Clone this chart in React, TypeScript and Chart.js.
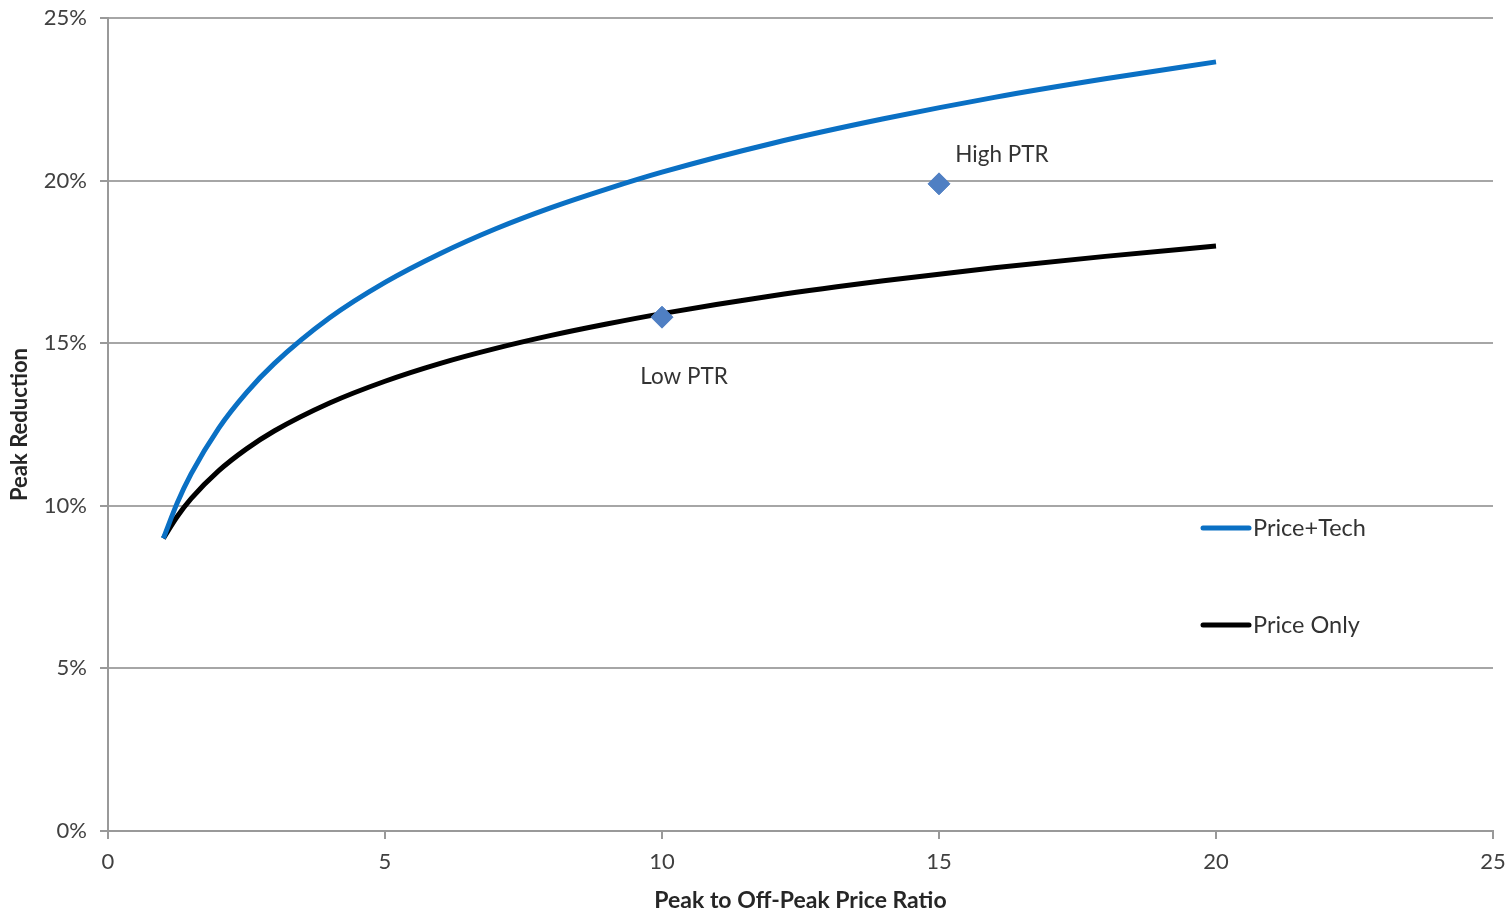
import React, { useEffect, useRef } from "react";
import { Chart, registerables } from "chart.js";

Chart.register(...registerables);

const priceRatio = [1, 1.25, 1.5, 2, 2.5, 3, 4, 5, 6, 7, 8, 9, 10, 12, 14, 16, 18, 20];
const priceTech = [9.0, 10.09, 10.98, 12.39, 13.48, 14.37, 15.78, 16.87, 17.76, 18.52, 19.17, 19.74, 20.26, 21.15, 21.9, 22.56, 23.13, 23.65];
const priceOnly = [9.0, 9.67, 10.22, 11.08, 11.75, 12.3, 13.16, 13.83, 14.38, 14.84, 15.24, 15.59, 15.91, 16.46, 16.92, 17.32, 17.67, 17.99];
const ptrX = [10, 15];
const ptrY = [15.8, 19.9];
const ptrLabels = ["Low PTR", "High PTR"];
const seriesNames = ["Price+Tech", "Price Only"];
const seriesColors = ["#0a70c4", "#000000"];

const FONT = "Lato, 'Open Sans', sans-serif";

export default function App() {
  const ref = useRef<HTMLCanvasElement | null>(null);

  useEffect(() => {
    if (!ref.current) return;

    const annotationPlugin = {
      id: "ptrLabels",
      afterDatasetsDraw(chart: any) {
        const { ctx, scales } = chart;
        const offsets = [
          { dx: 22, dy: 60 },
          { dx: 63, dy: -29 },
        ];
        ctx.save();
        ctx.font = `22.5px ${FONT}`;
        ctx.fillStyle = "#333333";
        ctx.textAlign = "center";
        ctx.textBaseline = "middle";
        ptrLabels.forEach((lbl, i) => {
          const px = scales.x.getPixelForValue(ptrX[i]);
          const py = scales.y.getPixelForValue(ptrY[i]);
          ctx.fillText(lbl, px + offsets[i].dx, py + offsets[i].dy);
        });
        ctx.restore();
      },
    };

    const legendPlugin = {
      id: "customLegend",
      afterDraw(chart: any) {
        const { ctx, chartArea } = chart;
        const x0 = chartArea.right - 290;
        const ys = [chartArea.top + 510, chartArea.top + 607];
        ctx.save();
        ctx.font = `23.5px ${FONT}`;
        ctx.textBaseline = "middle";
        ctx.textAlign = "left";
        seriesNames.forEach((name, i) => {
          ctx.strokeStyle = seriesColors[i];
          ctx.lineWidth = 5;
          ctx.lineCap = "round";
          ctx.beginPath();
          ctx.moveTo(x0, ys[i]);
          ctx.lineTo(x0 + 46, ys[i]);
          ctx.stroke();
          ctx.fillStyle = "#333333";
          ctx.fillText(name, x0 + 50, ys[i]);
        });
        ctx.restore();
      },
    };

    const chart = new Chart(ref.current, {
      type: "scatter",
      data: {
        datasets: [
          {
            label: ptrLabels.join(" / "),
            data: ptrX.map((x, i) => ({ x, y: ptrY[i] })),
            pointStyle: "rectRot",
            pointRadius: 11,
            backgroundColor: "#4f7fc3",
            borderColor: "#4f7fc3",
            showLine: false,
          },
          {
            label: seriesNames[0],
            data: priceRatio.map((x, i) => ({ x, y: priceTech[i] })),
            showLine: true,
            borderColor: seriesColors[0],
            borderWidth: 5,
            pointRadius: 0,
            cubicInterpolationMode: "monotone",
          },
          {
            label: seriesNames[1],
            data: priceRatio.map((x, i) => ({ x, y: priceOnly[i] })),
            showLine: true,
            borderColor: seriesColors[1],
            borderWidth: 5,
            pointRadius: 0,
            cubicInterpolationMode: "monotone",
          },
        ],
      },
      options: {
        animation: false,
        responsive: false,
        maintainAspectRatio: false,
        layout: { padding: { left: 0, top: 18, right: 16, bottom: 0 } },
        plugins: {
          legend: { display: false },
          tooltip: { enabled: false },
        },
        scales: {
          x: {
            type: "linear",
            min: 0,
            max: 25,
            afterFit: (s: any) => {
              s.height = 83;
              s.paddingLeft = 0;
              s.paddingRight = 0;
            },
            ticks: {
              stepSize: 5,
              padding: 10,
              color: "#404040",
              font: { family: FONT, size: 22 },
            },
            grid: {
              color: "transparent",
              tickColor: "#999999",
              tickLength: 8,
              lineWidth: 2,
            },
            border: { display: true, color: "#999999", width: 2 },
            title: {
              display: true,
              text: "Peak to Off-Peak Price Ratio",
              color: "#262626",
              font: { family: FONT, size: 23, weight: "bold" },
              padding: { top: 0, bottom: 0 },
            },
          },
          y: {
            type: "linear",
            min: 0,
            max: 25,
            afterFit: (s: any) => {
              s.width = 108;
              s.paddingTop = 0;
              s.paddingBottom = 0;
            },
            ticks: {
              stepSize: 5,
              padding: 13,
              color: "#404040",
              font: { family: FONT, size: 22 },
              callback: (v: any) => `${v}%`,
            },
            grid: {
              color: "#a6a6a6",
              tickColor: "#999999",
              tickLength: 8,
              lineWidth: 2,
            },
            border: { display: true, color: "#999999", width: 2 },
            title: {
              display: true,
              text: "Peak Reduction",
              color: "#262626",
              font: { family: FONT, size: 22, weight: "bold" },
              padding: { top: 7, bottom: 0 },
            },
          },
        },
      },
      plugins: [annotationPlugin, legendPlugin],
    } as any);

    return () => chart.destroy();
  }, []);

  return (
    <div style={{ position: "fixed", left: 0, top: 0, width: 1509, height: 914, background: "#fff" }}>
      <canvas ref={ref} width={1509} height={914} style={{ width: 1509, height: 914, display: "block" }} />
    </div>
  );
}
